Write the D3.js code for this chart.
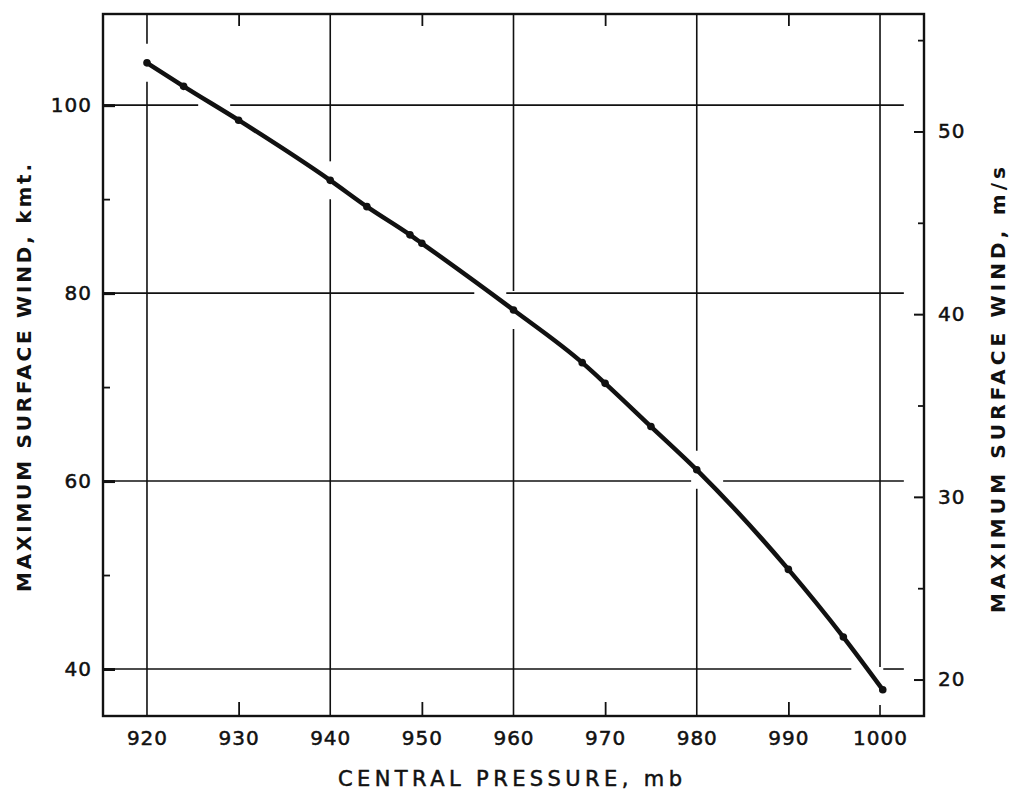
<!DOCTYPE html>
<html>
<head>
<meta charset="utf-8">
<script src="https://cdn.jsdelivr.net/npm/d3@7"></script>
<style>
  html, body { margin: 0; padding: 0; background: #fff; }
  svg { display: block; }
  text { font-family: "DejaVu Sans", sans-serif; fill: #111; }
</style>
</head>
<body>
<svg id="chart" width="1016" height="796"></svg>
<script>
// ---- data ----
const pressureMb = [920, 924, 930, 940, 944, 948.7, 950, 960, 967.5, 970, 975, 980, 990, 996, 1000.3];
const windKmt    = [104.5, 102.0, 98.4, 92.0, 89.2, 86.2, 85.3, 78.2, 72.6, 70.4, 65.8, 61.2, 50.6, 43.4, 37.8];

const xLabelTicks = [920, 930, 940, 950, 960, 970, 980, 990, 1000];
const xGridTicks  = [920, 940, 960, 980, 1000];
const xMinorTicks = [930, 950, 970, 990];
const yLeftTicks  = [40, 60, 80, 100];
const yLeftMinor  = [50, 70, 90];
const yRightTicks = [20, 30, 40, 50];
const yRightMinor = [25, 35, 45, 55];
const KT_PER_MS = 1.944;

const xTitle = "CENTRAL PRESSURE, mb";
const yLeftTitle = "MAXIMUM SURFACE WIND, kmt.";
const yRightTitle = "MAXIMUM SURFACE WIND, m/s";

// ---- layout ----
const L = 103, R = 924, T = 14, B = 716;
const svg = d3.select("#chart");
const x = d3.scaleLinear().domain([915.2, 1004.8]).range([L, R]);
const y = d3.scaleLinear().domain([35, 109.7]).range([B, T]);
const yR = d3.scaleLinear().domain([35 / KT_PER_MS, 109.7 / KT_PER_MS]).range([B, T]);

const ink = "#111";

function windAt(p) {
  for (let i = 0; i < pressureMb.length - 1; i++) {
    const a = pressureMb[i], b = pressureMb[i + 1];
    if (p >= a && p <= b) return windKmt[i] + (windKmt[i + 1] - windKmt[i]) * (p - a) / (b - a);
  }
  return p < pressureMb[0] ? windKmt[0] : windKmt[windKmt.length - 1];
}
function pressureAt(w) {
  for (let i = 0; i < windKmt.length - 1; i++) {
    const a = windKmt[i], b = windKmt[i + 1];
    if (w <= a && w >= b) return pressureMb[i] + (pressureMb[i + 1] - pressureMb[i]) * (a - w) / (a - b);
  }
  return null;
}

// ---- grid lines (broken where they meet the curve) ----
const grid = svg.append("g").attr("stroke", ink).attr("stroke-width", 1.6).attr("fill", "none");
const gV = 19, gH = 16;
xGridTicks.forEach(p => {
  const cy = y(windAt(p));
  const segs = [[T, cy - gV], [cy + gV, B]];
  segs.forEach(s => { if (s[1] > s[0]) grid.append("line").attr("x1", x(p)).attr("x2", x(p)).attr("y1", s[0]).attr("y2", s[1]); });
});
const hEnd = x(1002.6);
yLeftTicks.forEach(w => {
  const p = pressureAt(w);
  const segs = p === null ? [[L, hEnd]] : [[L, x(p) - gH], [x(p) + gH, hEnd]];
  segs.forEach(s => { if (s[1] > s[0]) grid.append("line").attr("x1", s[0]).attr("x2", s[1]).attr("y1", y(w)).attr("y2", y(w)); });
});

// ---- frame ----
svg.append("rect").attr("x", L).attr("y", T).attr("width", R - L).attr("height", B - T)
  .attr("fill", "none").attr("stroke", ink).attr("stroke-width", 2.4);

function styleAxis(g, sw) {
  g.select(".domain").remove();
  g.selectAll(".tick line").attr("stroke", ink).attr("stroke-width", sw);
  g.selectAll("text").attr("fill", ink);
}
function styleLabels(g) {
  g.selectAll("text").style("font-size", "20px").style("font-family", "DejaVu Sans, sans-serif")
    .attr("letter-spacing", "1").attr("stroke", ink).attr("stroke-width", 0.5);
}

// bottom labels
const axB = svg.append("g").attr("transform", `translate(0,${B})`)
  .call(d3.axisBottom(x).tickValues(xLabelTicks).tickSize(0).tickPadding(15).tickFormat(d3.format("d")));
styleAxis(axB, 1.6);
styleLabels(axB);
// bottom minor ticks (inward)
const axBm = svg.append("g").attr("transform", `translate(0,${B})`)
  .call(d3.axisBottom(x).tickValues(xMinorTicks).tickSize(-14).tickFormat(""));
styleAxis(axBm, 1.8);
// top minor ticks (inward)
const axTm = svg.append("g").attr("transform", `translate(0,${T})`)
  .call(d3.axisTop(x).tickValues(xMinorTicks).tickSize(-12).tickFormat(""));
styleAxis(axTm, 1.8);

// left labels + ticks
const axL = svg.append("g").attr("transform", `translate(${L},0)`)
  .call(d3.axisLeft(y).tickValues(yLeftTicks).tickSize(-12).tickPadding(11).tickFormat(d3.format("d")));
styleAxis(axL, 3);
styleLabels(axL);
const axLm = svg.append("g").attr("transform", `translate(${L},0)`)
  .call(d3.axisLeft(y).tickValues(yLeftMinor).tickSize(-7).tickFormat(""));
styleAxis(axLm, 1.8);

// right axis (m/s)
const axR = svg.append("g").attr("transform", `translate(${R},0)`)
  .call(d3.axisRight(yR).tickValues(yRightTicks).tickSize(-10).tickPadding(14).tickFormat(d3.format("d")));
styleAxis(axR, 2);
styleLabels(axR);
const axRm = svg.append("g").attr("transform", `translate(${R},0)`)
  .call(d3.axisRight(yR).tickValues(yRightMinor).tickSize(-6).tickFormat(""));
styleAxis(axRm, 1.8);

// ---- curve & points ----
const pts = pressureMb.map((p, i) => [p, windKmt[i]]);
svg.append("path").datum(pts)
  .attr("d", d3.line().x(d => x(d[0])).y(d => y(d[1])).curve(d3.curveMonotoneX))
  .attr("fill", "none").attr("stroke", ink).attr("stroke-width", 4.5).attr("stroke-linecap", "round");
svg.append("g").selectAll("circle").data(pts).join("circle")
  .attr("cx", d => x(d[0])).attr("cy", d => y(d[1])).attr("r", 3.8).attr("fill", ink);

// ---- titles ----
svg.append("text").attr("x", 510).attr("y", 786).attr("text-anchor", "middle")
  .style("font-size", "21px").attr("stroke", ink).attr("stroke-width", 0.5)
  .attr("textLength", 344).attr("lengthAdjust", "spacing").text(xTitle);
svg.append("text").attr("transform", "translate(31,378) rotate(-90)").attr("text-anchor", "middle")
  .style("font-size", "20px").style("font-weight", "bold").attr("textLength", 428).attr("lengthAdjust", "spacing").text(yLeftTitle);
svg.append("text").attr("transform", "translate(1005,390) rotate(-90)").attr("text-anchor", "middle")
  .style("font-size", "20px").style("font-weight", "bold").attr("textLength", 446).attr("lengthAdjust", "spacing").text(yRightTitle);
</script>
</body>
</html>
